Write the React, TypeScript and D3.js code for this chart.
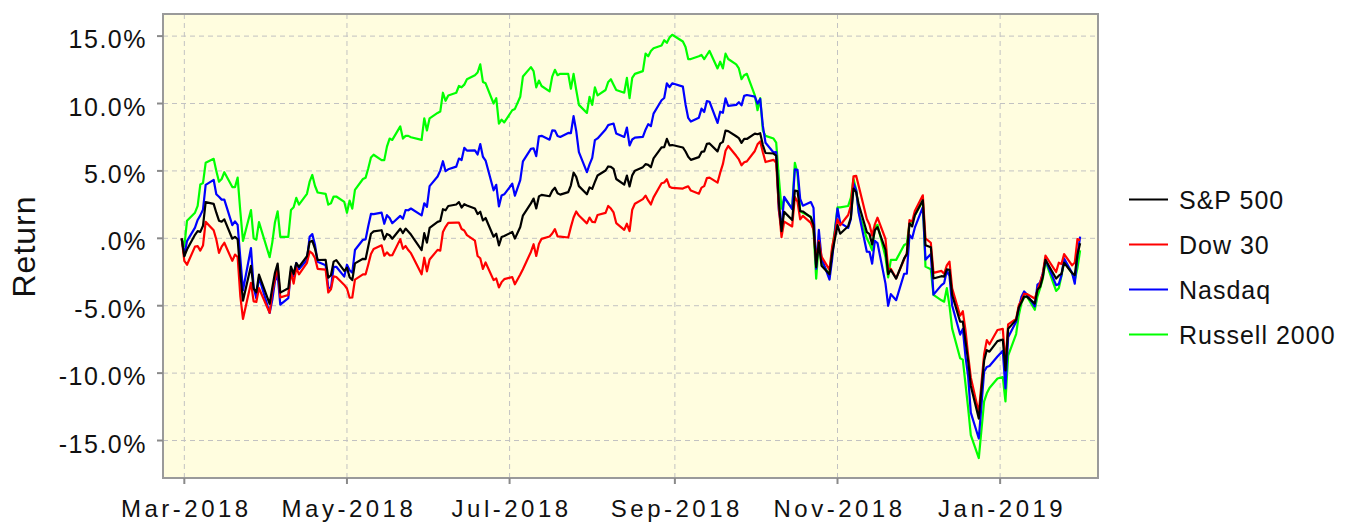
import React from "react"
import * as d3 from "d3"

// trading days, grouped by month
const tradingDays: [string, number[]][] = [
  ["2018-02", [28]],
  ["2018-03", [1, 2, 5, 6, 7, 8, 9, 12, 13, 14, 15, 16, 19, 20, 21, 22, 23, 26, 27, 28, 29]],
  ["2018-04", [2, 3, 4, 5, 6, 9, 10, 11, 12, 13, 16, 17, 18, 19, 20, 23, 24, 25, 26, 27, 30]],
  ["2018-05", [1, 2, 3, 4, 7, 8, 9, 10, 11, 14, 15, 16, 17, 18, 21, 22, 23, 24, 25, 29, 30, 31]],
  ["2018-06", [1, 4, 5, 6, 7, 8, 11, 12, 13, 14, 15, 18, 19, 20, 21, 22, 25, 26, 27, 28, 29]],
  ["2018-07", [2, 3, 5, 6, 9, 10, 11, 12, 13, 16, 17, 18, 19, 20, 23, 24, 25, 26, 27, 30, 31]],
  ["2018-08", [1, 2, 3, 6, 7, 8, 9, 10, 13, 14, 15, 16, 17, 20, 21, 22, 23, 24, 27, 28, 29, 30, 31]],
  ["2018-09", [4, 5, 6, 7, 10, 11, 12, 13, 14, 17, 18, 19, 20, 21, 24, 25, 26, 27, 28]],
  ["2018-10", [1, 2, 3, 4, 5, 8, 9, 10, 11, 12, 15, 16, 17, 18, 19, 22, 23, 24, 25, 26, 29, 30, 31]],
  ["2018-11", [1, 2, 5, 6, 7, 8, 9, 12, 13, 14, 15, 16, 19, 20, 21, 23, 26, 27, 28, 29, 30]],
  ["2018-12", [3, 4, 6, 7, 10, 11, 12, 13, 14, 17, 18, 19, 20, 21, 24, 26, 27, 28, 31]],
  ["2019-01", [2, 3, 4, 7, 8, 9, 10, 11, 14, 15, 16, 17, 18, 22, 23, 24, 25, 28, 29, 30, 31]],
]

// cumulative return in % since 2018-02-28
const sp500 = [
  0,
  -1.33, -0.83, 0.26, 0.53, 0.48, 0.93, 2.68, 2.55, 1.9, 1.31, 1.23, 1.41, -0.03, 0.11, -0.07, -2.58, -4.63, -2.04, -3.73, -4.01, -2.69,
  -4.86, -3.66, -2.55, -1.88, -4.03, -3.71, -2.1, -2.64, -1.84, -2.12, -1.33, -0.27, -0.19, -0.76, -1.61, -1.6, -2.92, -2.74, -1.73, -1.62, -2.42,
  -2.18, -2.88, -3.1, -1.86, -1.52, -1.54, -0.59, 0.34, 0.51, 0.6, -0.09, 0.32, 0.23, -0.03, 0.71, 0.39, 0.72, 0.51, 0.28, -0.88, 0.38, -0.32,
  0.77, 1.22, 1.29, 2.16, 2.08, 2.4, 2.51, 2.69, 2.28, 2.53, 2.43, 2.21, 1.8, 1.97, 1.32, 1.51, 0.12, 0.34, -0.52, 0.09, 0.17,
  0.47, -0.02, 0.84, 1.69, 2.59, 2.95, 2.22, 3.11, 3.22, 3.12, 3.53, 3.75, 3.34, 3.24, 3.43, 3.93, 4.87, 4.56, 3.87, 3.27, 3.78,
  3.67, 4.18, 4.66, 5.03, 5.33, 5.3, 5.15, 4.4, 3.98, 4.65, 3.85, 4.67, 5.02, 5.28, 5.5, 5.45, 5.27, 5.93, 6.74, 6.77, 7.38, 6.9, 6.92,
  6.74, 6.44, 6.05, 5.82, 6.02, 6.41, 6.45, 7.01, 7.04, 6.45, 7.02, 7.15, 7.99, 7.95, 7.57, 7.43, 7.08, 7.37, 7.37,
  7.77, 7.72, 7.8, 6.92, 6.33, 6.29, 6.14, 2.65, 0.54, 1.96, 1.36, 3.54, 3.51, 2.02, 1.99, 1.55, 0.99, -2.13, -0.3, -2.03, -2.67, -1.15, -0.08,
  0.98, 0.34, 0.9, 1.53, 3.69, 3.43, 2.48, 0.46, 0.31, -0.45, 0.6, 0.83, -0.85, -2.65, -2.35, -2.99, -1.49, -1.17, 1.1, 0.88, 1.71,
  2.82, -0.51, -0.66, -2.98, -2.81, -2.84, -2.31, -2.33, -4.2, -6.19, -6.18, -7.62, -9.08, -10.95, -13.37, -9.07, -8.29, -8.41, -7.63,
  -7.51, -9.8, -6.7, -6.05, -5.14, -4.75, -4.32, -4.33, -4.84, -3.81, -3.6, -2.87, -1.59, -2.98, -2.77, -2.64, -1.81, -2.58, -2.72, -1.21, -0.36,
]

const dow30 = [
  0,
  -1.68, -1.96, -0.62, -0.58, -0.91, -0.54, 1.22, 0.6, -0.09, -1.08, -0.62, -0.33, -1.67, -1.21, -1.39, -4.28, -5.98, -3.3, -4.68, -4.72, -3.7,
  -5.53, -3.98, -3.06, -2.09, -4.38, -4.2, -2.48, -3.36, -2.18, -2.67, -1.82, -0.97, -1.12, -1.46, -2.26, -2.32, -4.02, -3.78, -2.82, -2.87, -3.46,
  -3.72, -4.41, -4.39, -3.06, -2.68, -2.67, -1.94, -1.16, -0.79, -0.52, -1.29, -1.04, -1.26, -1.25, -0.06, -0.78, -0.57, -0.87, -1.1, -2.67, -1.44, -2.45,
  -1.57, -0.86, -0.92, 0.47, 0.85, 1.15, 1.17, 1.16, 0.69, 0.58, 0.24, -0.17, -1.31, -1.48, -2.27, -1.79, -3.1, -2.98, -3.64, -3.25, -3.03,
  -2.88, -3.41, -2.69, -2.29, -1.01, -0.44, -1.31, -0.42, -0.04, 0.14, 0.36, 0.68, 0.14, 0.12, 0.06, 0.85, 1.54, 1.99, 1.69, 1.11, 1.54,
  1.22, 1.19, 1.73, 1.89, 2.4, 2.21, 1.92, 1.13, 0.63, 1.08, 0.53, 2.12, 2.56, 2.91, 3.17, 2.81, 2.51, 3.04, 4.08, 4.14, 4.38, 3.83, 3.74,
  3.69, 3.78, 3.86, 3.54, 3.31, 3.76, 3.87, 4.46, 4.5, 4.13, 4.87, 5.5, 6.5, 6.85, 6.12, 5.85, 5.42, 5.64, 5.71,
  6.48, 6.97, 7.19, 6.39, 5.66, 5.82, 5.6, 2.28, 0.09, 1.24, 0.88, 3.07, 2.71, 1.4, 1.66, 1.15, 0.65, -1.78, -0.18, -1.36, -2.34, -0.62, 0.35,
  1.4, 0.97, 1.73, 2.42, 4.6, 4.64, 3.84, 1.43, 1.03, 0.2, 1.04, 1.53, -0.05, -2.25, -2.26, -2.97, -1.55, -1.12, 1.35, 1.24, 2.03,
  3.19, -0.01, -0.33, -2.56, -2.42, -2.63, -2.01, -1.73, -3.71, -5.74, -5.41, -6.81, -8.67, -10.32, -12.93, -8.59, -7.55, -7.86, -6.8,
  -6.72, -9.36, -6.38, -5.98, -4.96, -4.59, -4.11, -4.13, -4.47, -3.85, -3.28, -2.63, -1.29, -2.5, -1.81, -1.9, -1.17, -2.0, -1.8, -0.06, -0.12,
]

const nasdaq = [
  0,
  -1.27, -0.21, 0.79, 1.36, 1.7, 2.13, 3.96, 4.34, 3.27, 3.08, 2.87, 2.87, 0.98, 1.26, 0.99, -1.46, -3.85, -0.72, -3.63, -4.45, -2.88,
  -5.54, -4.56, -3.17, -2.7, -4.92, -4.44, -2.46, -2.8, -1.83, -2.29, -1.6, 0.11, 0.31, -0.48, -1.74, -1.99, -3.65, -3.7, -2.12, -2.11, -2.84,
  -1.96, -2.37, -2.54, -0.87, -0.11, -0.08, 0.92, 1.81, 1.79, 1.9, 1.08, 1.72, 1.51, 1.12, 1.66, 1.45, 2.1, 2.08, 2.21, 1.7, 2.6, 2.33,
  3.87, 4.58, 5.02, 5.72, 4.98, 5.12, 5.32, 5.92, 5.81, 6.71, 6.51, 6.52, 6.22, 6.99, 6.05, 5.77, 3.56, 3.97, 2.37, 3.17, 3.26,
  4.05, 3.16, 4.31, 5.71, 6.64, 6.68, 6.1, 7.57, 7.6, 7.32, 8.0, 7.99, 7.59, 7.52, 7.82, 7.81, 9.06, 7.96, 6.39, 4.91, 5.48,
  5.97, 7.28, 7.41, 8.07, 8.4, 8.46, 8.51, 7.78, 7.52, 8.22, 6.89, 7.33, 7.47, 7.53, 8.06, 8.47, 8.32, 9.25, 10.24, 10.41, 11.5, 11.21, 11.5,
  11.25, 9.93, 8.93, 8.66, 8.95, 9.62, 9.37, 10.18, 10.13, 8.56, 9.39, 9.31, 10.38, 9.82, 9.9, 10.1, 9.86, 10.57, 10.63,
  10.51, 9.99, 10.34, 8.34, 7.09, 6.37, 6.39, 2.05, 0.77, 3.08, 2.17, 5.12, 5.08, 2.92, 2.42, 2.69, 2.26, -2.26, 0.62, -1.45, -3.06, -1.53, 0.45,
  2.21, 1.15, 0.77, 1.42, 4.09, 3.55, 1.84, -0.99, -1.0, -1.88, -0.19, -0.35, -3.36, -5.01, -4.14, -4.59, -2.63, -2.62, 0.26, 0.0, 0.79,
  2.32, -1.58, -1.17, -4.18, -3.47, -3.32, -2.4, -2.79, -4.98, -7.14, -6.72, -8.75, -10.24, -12.93, -14.85, -9.88, -9.54, -9.47, -8.77,
  -8.35, -11.13, -7.34, -6.18, -5.17, -4.34, -3.94, -4.15, -5.05, -3.43, -3.28, -2.59, -1.59, -3.47, -3.4, -2.74, -1.49, -2.58, -3.36, -1.24, 0.12,
]

const russell2000 = [
  0,
  -0.6, 1.3, 1.9, 2.4, 4.0, 4.1, 5.6, 5.9, 5.0, 4.2, 4.4, 4.9, 3.8, 3.8, 4.5, 2.0, -0.2, 2.1, 0.0, -0.1, 1.2,
  -1.4, -0.3, 1.2, 2.0, 0.1, 0.1, 2.1, 2.3, 3.0, 2.5, 3.3, 4.2, 4.7, 3.9, 3.4, 3.3, 2.5, 2.6, 3.1, 3.1, 2.7,
  1.9, 2.8, 2.2, 3.6, 4.4, 4.5, 5.2, 6.0, 6.2, 5.8, 5.8, 6.8, 7.4, 7.3, 8.3, 7.4, 7.6, 7.6, 7.5, 7.3, 8.9, 8.0,
  8.9, 9.3, 9.4, 10.8, 10.2, 10.6, 10.8, 11.3, 11.2, 11.4, 11.8, 12.1, 12.3, 12.9, 11.6, 11.5, 10.0, 10.4, 8.5, 8.8, 8.6,
  9.5, 9.6, 10.5, 12.0, 12.7, 12.4, 11.2, 11.7, 11.3, 10.9, 12.0, 12.5, 12.1, 12.2, 12.2, 11.1, 12.2, 11.0, 9.9, 9.3, 10.5,
  9.9, 11.2, 10.6, 11.0, 11.6, 11.8, 11.4, 11.0, 10.8, 11.9, 10.4, 11.9, 12.2, 12.4, 13.7, 13.5, 13.9, 14.1, 14.3, 14.7, 14.5, 14.9, 15.1,
  14.6, 14.2, 13.3, 13.3, 13.5, 13.6, 13.3, 13.6, 13.9, 12.6, 13.1, 12.6, 13.7, 13.3, 12.9, 12.6, 11.8, 12.1, 12.2,
  10.6, 9.5, 10.4, 8.0, 7.6, 7.4, 7.1, 4.5, 2.2, 3.0, 2.2, 5.6, 4.8, 2.0, 1.9, 1.6, 0.6, -3.0, -0.3, -1.8, -2.7, -0.8, 0.6,
  2.3, 2.3, 2.4, 3.0, 4.4, 3.6, 1.9, 0.0, -0.4, -0.9, 0.8, 1.0, -1.4, -2.9, -1.6, -1.6, -0.5, -0.4, 1.1, 1.2, 1.7,
  2.8, -2.1, -2.3, -4.2, -4.6, -4.7, -3.7, -5.0, -6.7, -8.9, -9.0, -10.8, -12.6, -14.6, -16.3, -12.1, -11.5, -11.1, -10.4,
  -10.3, -12.1, -8.7, -7.1, -5.7, -4.8, -4.4, -4.3, -5.3, -4.3, -3.7, -3.0, -1.7, -3.9, -3.7, -2.8, -1.7, -2.6, -3.1, -2.2, -0.9,
]

const seriesNames = ["S&P 500", "Dow 30", "Nasdaq", "Russell 2000"]
const seriesColors = ["#000000", "#ff0000", "#0000ff", "#00ff00"]
const seriesValues = [sp500, dow30, nasdaq, russell2000]

const yTicks = [-15, -10, -5, 0, 5, 10, 15]
const yTickLabels = ["-15.0%", "-10.0%", "-5.0%", ".0%", "5.0%", "10.0%", "15.0%"]

const W = 1358
const H = 522
const plot = {left: 163, top: 14, right: 1098, bottom: 478}
const font = "'Liberation Sans', Arial, Helvetica, sans-serif"

const parseDay = d3.timeParse("%Y-%m-%d")
const dates = tradingDays.flatMap(([m, ds]) =>
  ds.map(d => parseDay(`${m}-${String(d).padStart(2, "0")}`) as Date))

const App = () => {
  const x = d3.scaleTime()
    .domain([new Date(2018, 1, 21), new Date(2019, 1, 6, 17)])
    .range([plot.left, plot.right])

  const y = d3.scaleLinear()
    .domain([-17.78, 16.64])
    .range([plot.bottom, plot.top])

  const xTicks = x.ticks(d3.timeMonth.every(2) as d3.TimeInterval)
  const fmtX = d3.timeFormat("%b-%Y")

  const line = d3.line<number>()
    .x((_, i) => x(dates[i]))
    .y(v => y(v))

  // Russell first, S&P drawn last (on top)
  const drawOrder = [3, 2, 1, 0]

  return (
    <svg width={W} height={H} style={{position: "absolute", left: 0, top: 0}} fontFamily={font}>
      <rect x={0} y={0} width={W} height={H} fill="#ffffff" />
      <rect x={plot.left} y={plot.top} width={plot.right - plot.left} height={plot.bottom - plot.top}
        fill="#fffddf" />

      {/* grid */}
      <g stroke="#c2c2c2" strokeWidth={1} strokeDasharray="5,4">
        {yTicks.map(t => (
          <line key={"gy" + t} x1={plot.left} x2={plot.right} y1={y(t)} y2={y(t)} />
        ))}
        {xTicks.map(t => (
          <line key={"gx" + t.getTime()} x1={x(t)} x2={x(t)} y1={plot.top} y2={plot.bottom} />
        ))}
      </g>

      {/* series */}
      <g fill="none" strokeWidth={2.2} strokeLinejoin="round">
        {drawOrder.map(i => (
          <path key={seriesNames[i]} d={line(seriesValues[i]) || ""} stroke={seriesColors[i]} />
        ))}
      </g>

      {/* frame */}
      <rect x={plot.left} y={plot.top} width={plot.right - plot.left} height={plot.bottom - plot.top}
        fill="none" stroke="#9a9a9a" strokeWidth={2} />

      {/* y axis */}
      <g>
        {yTicks.map((t, i) => (
          <g key={"ty" + t}>
            <line x1={plot.left - 6} x2={plot.left} y1={y(t)} y2={y(t)} stroke="#8a8a8a" strokeWidth={2} />
            <text x={147} y={y(t) + 12} textAnchor="end" fontSize={25} letterSpacing={1.5} fill="#111">
              {yTickLabels[i]}
            </text>
          </g>
        ))}
      </g>

      {/* x axis */}
      <g>
        {xTicks.map(t => (
          <g key={"tx" + t.getTime()}>
            <line x1={x(t)} x2={x(t)} y1={plot.bottom} y2={plot.bottom + 6} stroke="#8a8a8a" strokeWidth={2} />
            <text x={x(t) + 2} y={517} textAnchor="middle" fontSize={24} letterSpacing={3.5} fill="#111">
              {fmtX(t)}
            </text>
          </g>
        ))}
      </g>

      <text transform="translate(35,246.5) rotate(-90)" textAnchor="middle" fontSize={32} letterSpacing={1}
        fill="#111">Return</text>

      {/* legend */}
      <g>
        {seriesNames.map((name, i) => {
          const ly = 199.5 + i * 45
          return (
            <g key={"lg" + name}>
              <line x1={1129} x2={1168} y1={ly} y2={ly} stroke={seriesColors[i]} strokeWidth={2.2} />
              <text x={1179} y={ly + 9} fontSize={25} letterSpacing={1} fill="#111">{name}</text>
            </g>
          )
        })}
      </g>
    </svg>
  )
}

export default App
